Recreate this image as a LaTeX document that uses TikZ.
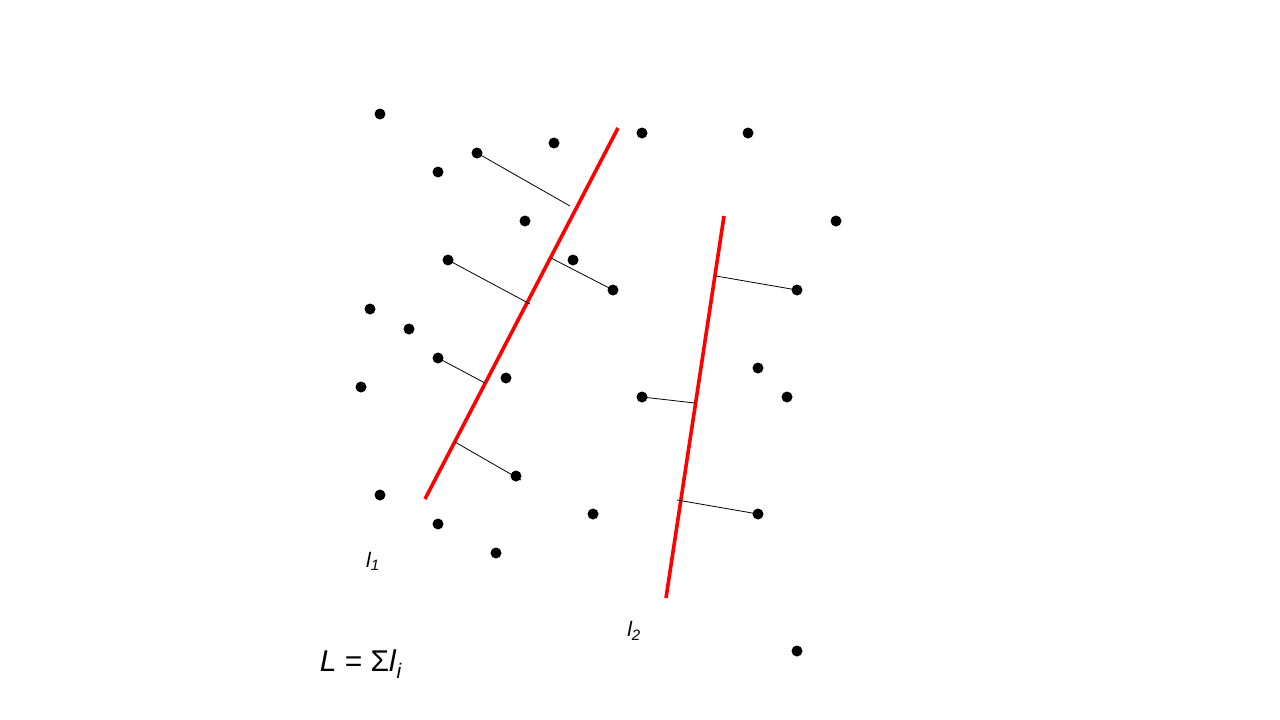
\documentclass[tikz,border=0pt]{standalone}
\usepackage{fontspec}
\setmainfont{Liberation Sans}
\begin{document}
\begin{tikzpicture}[x=1pt,y=-1pt,
  dot/.style={circle,fill=black,inner sep=0pt,minimum size=11pt},
  redline/.style={draw=red,line width=3.6pt},
  dist/.style={draw=black,line width=0.8pt},
  lab/.style={font=\itshape\fontsize{21}{23}\selectfont,inner sep=0pt}]
\useasboundingbox (0,0) rectangle (1280,720);
% dots
\node[dot] (d1) at (380,114) {};
\node[dot] (d2) at (438,172) {};
\node[dot] (d3) at (477,153) {};
\node[dot] (d4) at (554,143) {};
\node[dot] (d5) at (642,133) {};
\node[dot] (d6) at (748,133) {};
\node[dot] (d7) at (836,221) {};
\node[dot] (d8) at (525,221) {};
\node[dot] (d9) at (448,260) {};
\node[dot] (d10) at (573,260) {};
\node[dot] (d11) at (613,290) {};
\node[dot] (d12) at (797,290) {};
\node[dot] (d13) at (370,309) {};
\node[dot] (d14) at (409,329) {};
\node[dot] (d15) at (438,358) {};
\node[dot] (d16) at (506,378) {};
\node[dot] (d17) at (361,387) {};
\node[dot] (d18) at (642,397) {};
\node[dot] (d19) at (758,368) {};
\node[dot] (d20) at (787,397) {};
\node[dot] (d21) at (516,476) {};
\node[dot] (d22) at (380,495) {};
\node[dot] (d23) at (438,524) {};
\node[dot] (d24) at (496,553) {};
\node[dot] (d25) at (593,514) {};
\node[dot] (d26) at (758,514) {};
\node[dot] (d27) at (797,651) {};
% red lines
\coordinate (a1) at (425,499);
\coordinate (b1) at (618,128);
\coordinate (a2) at (724,216);
\coordinate (b2) at (666,598);
\draw[redline] (a1) -- (b1);
\draw[redline] (a2) -- (b2);
% feet of distance segments
\coordinate (f3) at (570,206);
\coordinate (f9) at (530,304);
\coordinate (f11) at (551,258);
\coordinate (f15) at (485,383);
\coordinate (f21) at (455,442);
\coordinate (e21) at (521,480);
\coordinate (f12) at (716,276);
\coordinate (f18) at (695,403);
\coordinate (f26) at (677,500);
\draw[dist] (d3.center) -- (f3);
\draw[dist] (d9.center) -- (f9);
\draw[dist] (d11.center) -- (f11);
\draw[dist] (d15.center) -- (f15);
\draw[dist] (f21) -- (e21);
\draw[dist] (f12) -- (d12.center);
\draw[dist] (d18.center) -- (f18);
\draw[dist] (f26) -- (d26.center);
% labels
\node[lab] (l1) at (373,561) {l\textsubscript{\fontsize{15}{15}\selectfont 1}};
\node[lab] (l2) at (634,631) {l\textsubscript{\fontsize{15}{15}\selectfont 2}};
\node[lab,font=\fontsize{30}{32}\selectfont] (L) at (361,664) {\textit{L} = Σ\textit{l}\textsubscript{\textit{i}}};
\end{tikzpicture}
\end{document}
